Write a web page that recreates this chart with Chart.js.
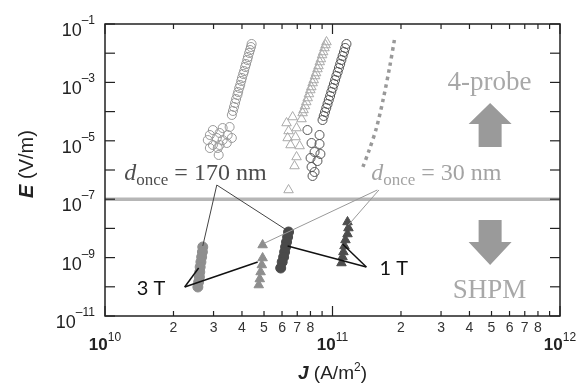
<!DOCTYPE html>
<html>
<head>
<meta charset="utf-8">
<script src="https://cdn.jsdelivr.net/npm/chart.js@4/dist/chart.umd.min.js"></script>
<style>
  html, body { margin: 0; padding: 0; background: #fff; }
</style>
</head>
<body>
<canvas id="fieldChart" width="583" height="383"></canvas>
<script>
// four-probe runs, d_once = 170 nm (light open circles)
var probe170J = [4.41e10, 4.38e10, 4.34e10, 4.30e10, 4.25e10, 4.22e10, 4.17e10, 4.13e10, 4.09e10, 4.05e10, 4.00e10,
  3.97e10, 3.93e10, 3.89e10, 3.85e10, 3.82e10, 3.77e10, 3.73e10, 3.69e10, 3.65e10, 3.61e10,
  3.53e10, 3.29e10, 2.98e10, 2.89e10, 3.19e10, 3.46e10, 3.10e10, 2.83e10, 3.29e10, 3.61e10, 2.98e10, 3.19e10,
  3.43e10, 2.89e10, 3.13e10, 3.16e10];
var probe170E = [2.07e-2, 1.63e-2, 1.29e-2, 1.02e-2, 7.4e-3, 5.85e-3, 4.27e-3, 3.37e-3, 2.45e-3, 1.94e-3, 1.42e-3,
  1.12e-3, 8.15e-4, 6.43e-4, 4.69e-4, 3.70e-4, 2.70e-4, 1.97e-4, 1.44e-4, 1.05e-4, 7.66e-5,
  2.97e-5, 2.74e-5, 2.34e-5, 1.58e-5, 1.85e-5, 1.58e-5, 1.25e-5, 1.06e-5, 1.06e-5, 1.25e-5, 7.18e-6, 7.18e-6,
  8.41e-6, 5.66e-6, 5.66e-6, 3.27e-6];

// four-probe runs, d_once = 30 nm (light open triangles)
var probe30J = [9.41e10, 9.32e10, 9.22e10, 9.10e10, 9.00e10, 8.89e10, 8.79e10, 8.68e10, 8.59e10, 8.47e10, 8.38e10,
  8.27e10, 8.18e10, 8.07e10, 7.99e10, 7.88e10, 7.78e10, 7.67e10, 7.57e10, 7.46e10, 7.39e10,
  6.68e10, 6.28e10, 7.31e10, 6.95e10, 6.41e10, 6.35e10, 6.88e10, 6.54e10, 7.17e10, 6.95e10, 6.81e10, 6.41e10];
var probe30E = [2.42e-2, 1.91e-2, 1.51e-2, 1.10e-2, 8.67e-3, 6.33e-3, 5.00e-3, 3.65e-3, 2.88e-3, 2.10e-3, 1.66e-3,
  1.21e-3, 9.53e-4, 6.95e-4, 5.49e-4, 4.01e-4, 2.92e-4, 2.13e-4, 1.56e-4, 1.14e-4, 8.96e-5,
  6.53e-5, 4.07e-5, 5.58e-5, 2.74e-5, 2.17e-5, 1.25e-5, 1.35e-5, 7.18e-6, 6.64e-6, 2.79e-6, 1.37e-6, 2.07e-7];

// four-probe runs, dark open circles
var probeDarkJ = [1.152e11, 1.137e11, 1.123e11, 1.108e11, 1.094e11, 1.081e11, 1.067e11, 1.054e11, 1.040e11, 1.027e11,
  1.014e11, 1.001e11, 9.88e10, 9.76e10, 9.63e10, 9.51e10, 9.39e10, 9.27e10, 9.15e10, 9.04e10,
  7.76e10, 8.77e10, 8.09e10, 8.77e10, 8.34e10, 8.85e10, 8.01e10, 8.59e10, 8.09e10, 8.34e10, 8.17e10];
var probeDarkE = [2.07e-2, 1.51e-2, 1.10e-2, 8.02e-3, 5.85e-3, 4.27e-3, 3.11e-3, 2.27e-3, 1.66e-3, 1.21e-3,
  8.81e-4, 6.43e-4, 4.69e-4, 3.42e-4, 2.49e-4, 1.82e-4, 1.33e-4, 9.68e-5, 7.06e-5, 5.15e-5,
  2.34e-5, 1.58e-5, 8.41e-6, 7.77e-6, 4.13e-6, 3.53e-6, 2.58e-6, 2.03e-6, 1.27e-6, 8.55e-7, 6.24e-7];

// dotted trend for d_once = 30 nm
var trend30J = [1.871e11, 1.78e11, 1.675e11, 1.56e11, 1.45e11, 1.355e11];
var trend30E = [2.83e-2, 3.11e-3, 2.92e-4, 2.74e-5, 4.84e-6, 1.17e-6];

// SHPM points
var shpm3T170J = [2.69e10, 2.68e10, 2.66e10, 2.64e10, 2.62e10, 2.61e10, 2.60e10, 2.58e10, 2.56e10];
var shpm3T170E = [2.31e-9, 1.56e-9, 1.05e-9, 7.06e-10, 4.77e-10, 3.21e-10, 2.17e-10, 1.46e-10, 9.84e-11];
var shpm3T30J = [4.93e10, 4.93e10, 4.89e10, 4.83e10, 4.79e10, 4.74e10];
var shpm3T30E = [2.70e-9, 9.68e-10, 5.58e-10, 3.21e-10, 1.85e-10, 1.15e-10];
var shpm1T170J = [6.41e10, 6.35e10, 6.28e10, 6.22e10, 6.16e10, 6.10e10, 6.01e10, 5.92e10];
var shpm1T170E = [7.53e-9, 5.08e-9, 3.42e-9, 2.31e-9, 1.56e-9, 1.05e-9, 7.06e-10, 4.40e-10];
var shpm1T30J = [1.164e11, 1.175e11, 1.164e11, 1.140e11, 1.129e11, 1.117e11, 1.107e11, 1.095e11];
var shpm1T30E = [1.66e-8, 1.03e-8, 6.43e-9, 4.01e-9, 2.50e-9, 1.56e-9, 1.05e-9, 6.53e-10];

// boundary between the two methods
var limitJ = [1e10, 1e12];
var limitE = [1e-7, 1e-7];

// axis ticks
var yTickExps = [-11, -10, -9, -8, -7, -6, -5, -4, -3, -2, -1];
var yLabelExps = [-1, -3, -5, -7, -9, -11];
var xDecadeExps = [10, 11, 12];
var xMinorDigits = [2, 3, 4, 5, 6, 7, 8, 9];
var xMinorLabels = ['2', '3', '4', '5', '6', '7', '8'];

function pts(xs, ys) {
  return xs.map(function (x, i) { return { x: x, y: ys[i] }; });
}

var SANS = '"Liberation Sans", Arial, sans-serif';
var SERIF = '"Liberation Serif", "Times New Roman", serif';

function drawRuns(ctx, runs, x, y, align) {
  var w = 0;
  runs.forEach(function (r) { ctx.font = r.font; r.w = ctx.measureText(r.text).width; w += r.w; });
  var cx = align === 'right' ? x - w : (align === 'center' ? x - w / 2 : x);
  runs.forEach(function (r) {
    ctx.font = r.font;
    ctx.fillStyle = r.color || '#222';
    ctx.fillText(r.text, cx, y + (r.dy || 0));
    cx += r.w;
  });
}

function seg(ctx, x1, y1, x2, y2) {
  ctx.beginPath(); ctx.moveTo(x1, y1); ctx.lineTo(x2, y2); ctx.stroke();
}

var decor = {
  id: 'decor',
  afterDatasetsDraw: function (chart) {
    var ctx = chart.ctx, a = chart.chartArea;
    var xs = chart.scales.x, ys = chart.scales.y;
    var X = function (v) { return xs.getPixelForValue(v); };
    var Y = function (v) { return ys.getPixelForValue(v); };
    ctx.save();
    ctx.textAlign = 'left';
    ctx.textBaseline = 'alphabetic';

    // leader lines from the d_once labels
    ctx.lineWidth = 1;
    ctx.strokeStyle = '#444';
    seg(ctx, X(3.10e10), Y(3.06e-7), X(2.69e10), Y(2.5e-9));
    seg(ctx, X(3.10e10), Y(3.06e-7), X(6.28e10), Y(8.8e-9));
    ctx.strokeStyle = '#999';
    seg(ctx, X(1.574e11), Y(2.07e-7), X(5.04e10), Y(3.16e-9));
    seg(ctx, X(1.60e11), Y(2.07e-7), X(1.175e11), Y(1.31e-8));

    // leader lines from the field labels
    ctx.lineWidth = 1.5;
    ctx.strokeStyle = '#111';
    seg(ctx, X(2.24e10), Y(9.84e-11), X(2.58e10), Y(4.40e-10));
    seg(ctx, X(2.24e10), Y(9.84e-11), X(4.69e10), Y(7.06e-10));
    seg(ctx, X(1.409e11), Y(4.77e-10), X(1.107e11), Y(2.92e-9));
    seg(ctx, X(1.409e11), Y(4.77e-10), X(6.35e10), Y(2.5e-9));

    // frame and inward ticks
    ctx.strokeStyle = '#222';
    ctx.lineWidth = 1.5;
    ctx.strokeRect(a.left, a.top, a.right - a.left, a.bottom - a.top);
    ctx.lineWidth = 1.2;
    yTickExps.forEach(function (p) {
      var y = Y(Math.pow(10, p));
      seg(ctx, a.left, y, a.left + 10, y);
      seg(ctx, a.right, y, a.right - 10, y);
    });
    xDecadeExps.forEach(function (p) {
      var x = X(Math.pow(10, p));
      seg(ctx, x, a.bottom, x, a.bottom - 10);
      seg(ctx, x, a.top, x, a.top + 10);
      if (p < 12) {
        xMinorDigits.forEach(function (m) {
          var xm = X(m * Math.pow(10, p));
          seg(ctx, xm, a.bottom, xm, a.bottom - 5);
          seg(ctx, xm, a.top, xm, a.top + 5);
        });
      }
    });

    // tick labels
    yLabelExps.forEach(function (p) {
      var y = Y(Math.pow(10, p));
      drawRuns(ctx, [
        { text: '10', font: '18px ' + SANS },
        { text: '\u2013' + Math.abs(p), font: '12px ' + SANS, dy: -12 }
      ], a.left - 10, y + 12, 'right');
    });
    xDecadeExps.forEach(function (p) {
      drawRuns(ctx, [
        { text: '10', font: 'bold 17px ' + SANS },
        { text: String(p), font: '12px ' + SANS, dy: -9 }
      ], X(Math.pow(10, p)), 350, 'center');
    });
    ctx.textAlign = 'center';
    ctx.font = '14px ' + SANS;
    ctx.fillStyle = '#333';
    [10, 11].forEach(function (p) {
      xMinorLabels.forEach(function (s) {
        ctx.fillText(s, X(Number(s) * Math.pow(10, p)), a.bottom + 16);
      });
    });
    ctx.textAlign = 'left';

    // axis titles
    drawRuns(ctx, [
      { text: 'J', font: 'italic bold 19px ' + SANS },
      { text: ' (A/m', font: '19px ' + SANS },
      { text: '2', font: '12px ' + SANS, dy: -8 },
      { text: ')', font: '19px ' + SANS }
    ], X(1e11), 379, 'center');
    ctx.save();
    ctx.translate(33, (a.top + a.bottom) / 2 - 6);
    ctx.rotate(-Math.PI / 2);
    drawRuns(ctx, [
      { text: 'E', font: 'italic bold 20px ' + SANS },
      { text: ' (V/m)', font: '20px ' + SANS }
    ], 0, 0, 'center');
    ctx.restore();

    // d_once labels
    drawRuns(ctx, [
      { text: 'd', font: 'italic 24px ' + SERIF, color: '#4d4d4d' },
      { text: 'once', font: '17px ' + SERIF, color: '#4d4d4d', dy: 5 },
      { text: ' = 170 nm', font: '24px ' + SERIF, color: '#4d4d4d' }
    ], X(5.13e10), Y(4.55e-7), 'right');
    drawRuns(ctx, [
      { text: 'd', font: 'italic 24px ' + SERIF, color: '#a3a3a3' },
      { text: 'once', font: '17px ' + SERIF, color: '#a3a3a3', dy: 5 },
      { text: ' = 30 nm', font: '24px ' + SERIF, color: '#a3a3a3' }
    ], X(1.48e11), Y(4.55e-7), 'left');

    // field labels
    drawRuns(ctx, [{ text: '3 T', font: '20px Lato, sans-serif', color: '#111' }], X(1.38e10), Y(5.2e-11), 'left');
    drawRuns(ctx, [{ text: '1 T', font: '20px Lato, sans-serif', color: '#111' }], X(1.61e11), Y(2.5e-10), 'left');

    // method labels and arrows
    drawRuns(ctx, [{ text: '4-probe', font: '27px ' + SERIF, color: '#a8a8a8' }], X(4.9e11), Y(5.5e-4), 'center');
    drawRuns(ctx, [{ text: 'SHPM', font: '27px ' + SERIF, color: '#a8a8a8' }], X(4.9e11), Y(4.2e-11), 'center');
    ctx.fillStyle = '#9a9a9a';
    var ax = X(4.93e11), up = Y(3.5e-5), dn = Y(3.4e-9);
    ctx.beginPath();
    ctx.moveTo(ax, up - 22); ctx.lineTo(ax + 21.5, up - 1); ctx.lineTo(ax + 11.5, up - 1);
    ctx.lineTo(ax + 11.5, up + 22); ctx.lineTo(ax - 11.5, up + 22); ctx.lineTo(ax - 11.5, up - 1);
    ctx.lineTo(ax - 21.5, up - 1); ctx.closePath(); ctx.fill();
    ctx.beginPath();
    ctx.moveTo(ax, dn + 23); ctx.lineTo(ax + 21.5, dn); ctx.lineTo(ax + 11.5, dn);
    ctx.lineTo(ax + 11.5, dn - 22); ctx.lineTo(ax - 11.5, dn - 22); ctx.lineTo(ax - 11.5, dn);
    ctx.lineTo(ax - 21.5, dn); ctx.closePath(); ctx.fill();

    ctx.restore();
  }
};

var ctx = document.getElementById('fieldChart').getContext('2d');
var fieldChart = new Chart(ctx, {
  type: 'scatter',
  data: {
    datasets: [{
      data: pts(shpm1T30J, shpm1T30E),
      pointStyle: 'triangle', pointRadius: 5.5,
      backgroundColor: '#4d4d4d', borderColor: '#4d4d4d', borderWidth: 1
    }, {
      data: pts(shpm1T170J, shpm1T170E),
      pointStyle: 'circle', pointRadius: 5,
      backgroundColor: '#4a4a4a', borderColor: '#4a4a4a', borderWidth: 1
    }, {
      data: pts(shpm3T30J, shpm3T30E),
      pointStyle: 'triangle', pointRadius: 5.5,
      backgroundColor: '#8e8e8e', borderColor: '#8e8e8e', borderWidth: 1
    }, {
      data: pts(shpm3T170J, shpm3T170E),
      pointStyle: 'circle', pointRadius: 5,
      backgroundColor: '#8e8e8e', borderColor: '#8e8e8e', borderWidth: 1
    }, {
      data: pts(probeDarkJ, probeDarkE),
      pointStyle: 'circle', pointRadius: 4.5,
      backgroundColor: 'rgba(0,0,0,0)', borderColor: '#555', borderWidth: 1
    }, {
      data: pts(probe30J, probe30E),
      pointStyle: 'triangle', pointRadius: 5.5,
      backgroundColor: 'rgba(0,0,0,0)', borderColor: '#aaa', borderWidth: 1
    }, {
      data: pts(probe170J, probe170E),
      pointStyle: 'circle', pointRadius: 4.5,
      backgroundColor: 'rgba(0,0,0,0)', borderColor: '#999', borderWidth: 1
    }, {
      data: pts(trend30J, trend30E),
      showLine: true, pointRadius: 0, tension: 0.3,
      borderColor: '#999', borderWidth: 3.5, borderDash: [3.5, 4], order: 5
    }, {
      data: pts(limitJ, limitE),
      showLine: true, pointRadius: 0,
      borderColor: '#b6b6b6', borderWidth: 3.5, order: 10
    }]
  },
  options: {
    responsive: false,
    animation: false,
    devicePixelRatio: 1,
    layout: { padding: { left: 105, top: 24, right: 23, bottom: 67 } },
    plugins: { legend: { display: false }, tooltip: { enabled: false } },
    scales: {
      x: { type: 'logarithmic', min: 1e10, max: 1e12, display: false },
      y: { type: 'logarithmic', min: 1e-11, max: 1e-1, display: false }
    }
  },
  plugins: [decor]
});
</script>
</body>
</html>
